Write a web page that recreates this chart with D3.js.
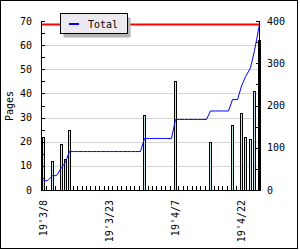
<!DOCTYPE html>
<html>
<head>
<meta charset="utf-8">
<script src="https://cdn.jsdelivr.net/npm/d3@7"></script>
<style>
  html, body { margin: 0; padding: 0; background: #fff; }
  svg { display: block; }
  text { font-family: "DejaVu Sans Mono", monospace; font-size: 10px; fill: #000; }
</style>
</head>
<body>
<div id="chart"></div>
<script>
// pages read per day, cumulative total on the right axis
var firstDay = "2019-03-08", lastDay = "2019-04-26";
var readDates = ["2019-03-08", "2019-03-10", "2019-03-12", "2019-03-13", "2019-03-14",
  "2019-03-31", "2019-04-07", "2019-04-15", "2019-04-20", "2019-04-22",
  "2019-04-23", "2019-04-24", "2019-04-25", "2019-04-26"];
var pages = [22, 12, 19, 13, 25, 31, 45, 20, 27, 32, 22, 21, 41, 62];
var labelDates = ["2019-03-08", "2019-03-23", "2019-04-07", "2019-04-22"];
var leftTicks = [0, 10, 20, 30, 40, 50, 60, 70];
var rightTicks = [0, 100, 200, 300, 400];

(function () {
  var W = 300, H = 250;
  var parse = d3.utcParse("%Y-%m-%d");
  var fmt = d3.utcFormat("%y'%-m/%-d");
  var t0 = parse(firstDay), t1 = parse(lastDay);

  var x = d3.scaleUtc().domain([t0, t1]).range([42, 257.6]);
  var yL = d3.scaleLinear().domain([0, 70]).range([190, 21]);
  var yR = d3.scaleLinear().domain([0, 400]).range([190, 21]);
  var px = function (d) { return Math.round(x(d)) + 0.5; };

  var svg = d3.select("#chart").append("svg")
    .attr("width", W).attr("height", H);

  // outer frame
  svg.append("rect").attr("x", 0.5).attr("y", 0.5)
    .attr("width", 297).attr("height", 248)
    .attr("fill", "#fff").attr("stroke", "#000");

  // grid
  svg.append("g").selectAll("line").data(leftTicks.filter(function (v) { return v > 0 && v < 70; }))
    .join("line")
    .attr("x1", 41).attr("x2", 260)
    .attr("y1", function (v) { return Math.round(yL(v)) + 0.5; })
    .attr("y2", function (v) { return Math.round(yL(v)) + 0.5; })
    .attr("stroke", "#d4d4d4");

  // daily cumulative total
  var days = d3.utcDay.range(t0, d3.utcDay.offset(t1, 1));
  var byDay = new Map(readDates.map(function (s, i) { return [+parse(s), pages[i]]; }));
  var run = 0;
  var totals = days.map(function (d) {
    run += byDay.get(+d) || 0;
    return { date: d, total: run };
  });
  var maxTotal = d3.max(totals, function (d) { return d.total; });

  // bars
  svg.append("g").selectAll("rect").data(readDates).join("rect")
    .attr("x", function (s) { return px(parse(s)); })
    .attr("y", function (s, i) { return Math.round(yL(pages[i])) + 0.5; })
    .attr("width", 2)
    .attr("height", function (s, i) { return Math.round(yL(0)) - Math.round(yL(pages[i])); })
    .attr("fill", "#c4e6ee").attr("stroke", "#000");

  // max line
  svg.append("line")
    .attr("x1", 41).attr("x2", 260)
    .attr("y1", yR(maxTotal)).attr("y2", yR(maxTotal))
    .attr("stroke", "#ff0000").attr("stroke-width", 2);

  svg.append("path").datum(totals)
    .attr("fill", "none").attr("stroke", "#0000ff").attr("stroke-width", 1)
    .attr("d", d3.line()
      .x(function (d) { return px(d.date) + 1; })
      .y(function (d) { return yR(d.total); }));

  // axes lines
  var ax = svg.append("g").attr("stroke", "#000").attr("shape-rendering", "crispEdges");
  ax.append("line").attr("x1", 41.5).attr("x2", 41.5).attr("y1", 21).attr("y2", 191);
  ax.append("line").attr("x1", 259.5).attr("x2", 259.5).attr("y1", 21).attr("y2", 191);
  ax.append("line").attr("x1", 41).attr("x2", 260).attr("y1", 190.5).attr("y2", 190.5);

  // left ticks every 5
  ax.selectAll(".lt").data(d3.range(0, 71, 5)).join("line")
    .attr("x1", 41).attr("x2", 45)
    .attr("y1", function (v) { return Math.round(yL(v)) + 0.5; })
    .attr("y2", function (v) { return Math.round(yL(v)) + 0.5; });
  // right ticks every 50
  ax.selectAll(".rt").data(d3.range(0, 401, 50)).join("line")
    .attr("x1", 256).attr("x2", 260)
    .attr("y1", function (v) { return Math.round(yR(v)) + 0.5; })
    .attr("y2", function (v) { return Math.round(yR(v)) + 0.5; });
  // daily ticks
  ax.selectAll(".xt").data(days).join("line")
    .attr("x1", function (d) { return px(d); }).attr("x2", function (d) { return px(d); })
    .attr("y1", 186).attr("y2", 190);

  svg.append("g").selectAll("text").data(leftTicks).join("text")
    .attr("x", 32).attr("y", function (v) { return yL(v); })
    .attr("dy", "0.35em").attr("text-anchor", "end")
    .text(function (v) { return v; });

  svg.append("g").selectAll("text").data(rightTicks).join("text")
    .attr("x", 267).attr("y", function (v) { return yR(v); })
    .attr("dy", "0.35em")
    .text(function (v) { return v; });

  svg.append("g").selectAll("text").data(labelDates).join("text")
    .attr("transform", function (s) {
      return "translate(" + (px(parse(s)) + 1) + ",200) rotate(-90)";
    })
    .attr("dy", "0.35em").attr("text-anchor", "end")
    .text(function (s) { return fmt(parse(s)); });

  svg.append("text")
    .attr("transform", "translate(13,106) rotate(-90)")
    .attr("text-anchor", "middle")
    .text("Pages");

  // legend
  var lg = svg.append("g");
  lg.append("rect").attr("x", 63.5).attr("y", 17.5).attr("width", 67).attr("height", 20)
    .attr("fill", "#b4b4b4");
  lg.append("rect").attr("x", 60.5).attr("y", 13.5).attr("width", 67).attr("height", 20)
    .attr("fill", "#ece9f0").attr("stroke", "#000");
  lg.append("line").attr("x1", 69).attr("x2", 79).attr("y1", 24).attr("y2", 24)
    .attr("stroke", "#0000ff").attr("stroke-width", 2);
  lg.append("text").attr("x", 88).attr("y", 24).attr("dy", "0.35em").text("Total");
})();
</script>
</body>
</html>
